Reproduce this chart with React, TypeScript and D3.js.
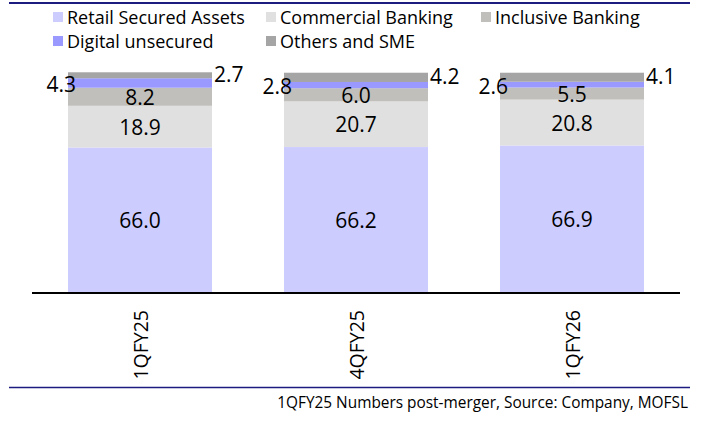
import React from "react";
import * as d3 from "d3";

const categories = ["1QFY25", "4QFY25", "1QFY26"];
const seriesNames = ["Retail Secured Assets", "Commercial Banking", "Inclusive Banking", "Digital unsecured", "Others and SME"];
const retailSecured = [66.0, 66.2, 66.9];
const commercialBanking = [18.9, 20.7, 20.8];
const inclusiveBanking = [8.2, 6.0, 5.5];
const digitalUnsecured = [4.3, 2.8, 2.6];
const othersSme = [2.7, 4.2, 4.1];
const seriesColors = ["#CCCCFF", "#E0E0E0", "#C0BFBB", "#9999FF", "#A6A5A5"];
const footnote = "1QFY25 Numbers post-merger, Source: Company, MOFSL";

const W = 702;
const H = 425;
const FONT = "'Open Sans', sans-serif";

export default function App() {
  const seriesValues = [retailSecured, commercialBanking, inclusiveBanking, digitalUnsecured, othersSme];
  const rows = categories.map((c, i) => {
    const r: any = { cat: c };
    seriesNames.forEach((s, k) => (r[s] = seriesValues[k][i]));
    return r;
  });
  const stack = d3.stack<any>().keys(seriesNames)(rows);

  const x = d3.scaleBand<string>().domain(categories).range([32, 680]).paddingInner(1 / 3).paddingOuter(1 / 6);
  const y = d3.scaleLinear().domain([0, 100]).range([293, 72.5]);
  const bw = x.bandwidth();

  const legendItems = [
    { name: seriesNames[0], color: seriesColors[0], x: 53, y: 17 },
    { name: seriesNames[1], color: seriesColors[1], x: 266, y: 17 },
    { name: seriesNames[2], color: seriesColors[2], x: 481, y: 17 },
    { name: seriesNames[3], color: seriesColors[3], x: 53, y: 41 },
    { name: seriesNames[4], color: seriesColors[4], x: 266, y: 41 },
  ];

  return (
    <svg width={W} height={H} style={{ position: "absolute", left: 0, top: 0, background: "#fff" }} fontFamily={FONT}>
      <line x1={9} x2={690} y1={3} y2={3} stroke="#1C1C80" strokeWidth={2} />
      {legendItems.map((l) => (
        <g key={l.name}>
          <rect x={l.x} y={l.y - 5} width={10} height={10} fill={l.color} />
          <text x={l.x + 14} y={l.y} dominantBaseline="central" fontSize={18} fill="#000">
            {l.name}
          </text>
        </g>
      ))}
      {stack.map((s, k) => (
        <g key={s.key}>
          {s.map((d, i) => (
            <rect
              key={i}
              x={x(categories[i])!}
              y={y(d[1])}
              width={bw}
              height={y(d[0]) - y(d[1])}
              fill={seriesColors[k]}
            />
          ))}
        </g>
      ))}
      {stack.map((s, k) =>
        s.map((d, i) => {
          const v = seriesValues[k][i];
          const cy = (y(d[0]) + y(d[1])) / 2;
          const bx = x(categories[i])!;
          if (k <= 2) {
            return (
              <text key={`${k}-${i}`} x={bx + bw / 2} y={cy} textAnchor="middle" dominantBaseline="central" fontSize={21}>
                {v.toFixed(1)}
              </text>
            );
          }
          if (k === 3) {
            return (
              <text key={`${k}-${i}`} x={bx + 8} y={cy + 1} textAnchor="end" dominantBaseline="central" fontSize={21}>
                {v.toFixed(1)}
              </text>
            );
          }
          return (
            <text key={`${k}-${i}`} x={bx + bw + 2} y={cy - 1} textAnchor="start" dominantBaseline="central" fontSize={21}>
              {v.toFixed(1)}
            </text>
          );
        })
      )}
      <line x1={32} x2={680} y1={293} y2={293} stroke="#000" strokeWidth={2} />
      {categories.map((c) => {
        const cx = x(c)! + bw / 2;
        return (
          <text
            key={c}
            transform={`translate(${cx},310) rotate(-90)`}
            textAnchor="end"
            dominantBaseline="central"
            fontSize={19.5}
          >
            {c}
          </text>
        );
      })}
      <line x1={9} x2={690} y1={387.5} y2={387.5} stroke="#1C1C80" strokeWidth={1.5} />
      <text x={688} y={402} textAnchor="end" dominantBaseline="central" fontSize={15.4}>
        {footnote}
      </text>
    </svg>
  );
}
